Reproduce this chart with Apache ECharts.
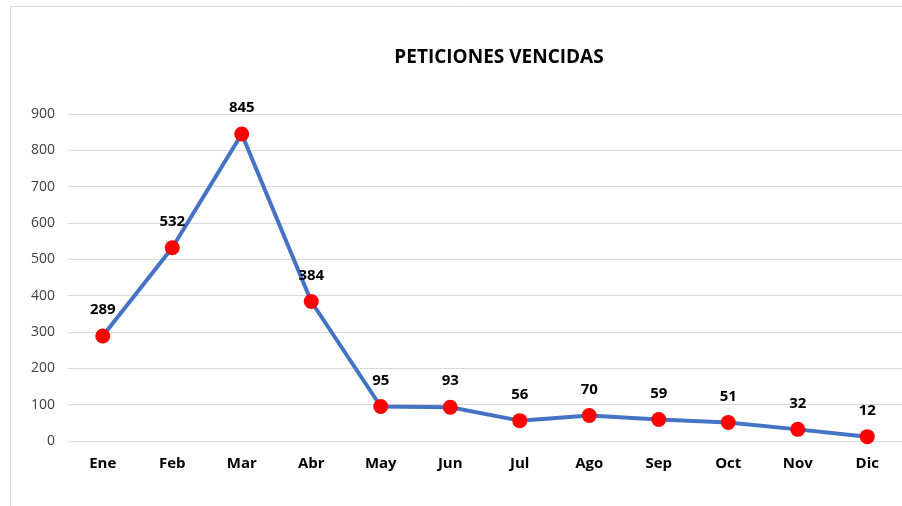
<!DOCTYPE html>
<html>
<head>
<meta charset="utf-8">
<script src="https://cdn.jsdelivr.net/npm/echarts@6/dist/echarts.min.js"></script>
<style>
  html, body { margin: 0; padding: 0; background: #fff; }
  #main { width: 902px; height: 506px; }
</style>
</head>
<body>
<div id="main"></div>
<script>
var meses = ['Ene', 'Feb', 'Mar', 'Abr', 'May', 'Jun', 'Jul', 'Ago', 'Sep', 'Oct', 'Nov', 'Dic'];
var vencidas = [289, 532, 845, 384, 95, 93, 56, 70, 59, 51, 32, 12];

var myChart = echarts.init(document.getElementById('main'));

var option = {
    backgroundColor: '#fff',
    animation: false,
    title: {
        text: 'PETICIONES VENCIDAS',
        left: 494,
        textAlign: 'center',
        top: 43,
        textStyle: { fontFamily: 'Open Sans', fontSize: 19, fontWeight: 'bold', color: '#000' }
    },
    graphic: [{
        type: 'rect',
        shape: { x: 10.5, y: 6.5, width: 1000, height: 600 },
        style: { fill: 'none', stroke: '#d9d9d9', lineWidth: 1 },
        silent: true
    }],
    grid: { left: 68, right: -2, top: 114, bottom: 65, containLabel: false },
    xAxis: {
        type: 'category',
        data: meses,
        boundaryGap: true,
        axisLine: { show: false },
        axisTick: { show: false },
        axisLabel: { margin: 15, fontFamily: 'Open Sans', fontSize: 15, fontWeight: 'bold', color: '#000' }
    },
    yAxis: {
        type: 'value',
        min: 0,
        max: 900,
        interval: 100,
        axisLine: { show: false },
        axisTick: { show: false },
        splitLine: { lineStyle: { color: '#d9d9d9', width: 1 } },
        axisLabel: { margin: 13, fontFamily: 'Open Sans', fontSize: 14, color: '#404040' }
    },
    series: [{
        type: 'line',
        data: vencidas,
        symbol: 'circle',
        symbolSize: 15,
        itemStyle: { color: '#ff0000' },
        lineStyle: { color: '#4472c4', width: 4 },
        label: {
            show: true,
            position: 'top',
            distance: 11,
            fontFamily: 'Open Sans',
            fontSize: 15,
            fontWeight: 'bold',
            color: '#000'
        }
    }]
};
myChart.setOption(option);
</script>
</body>
</html>
